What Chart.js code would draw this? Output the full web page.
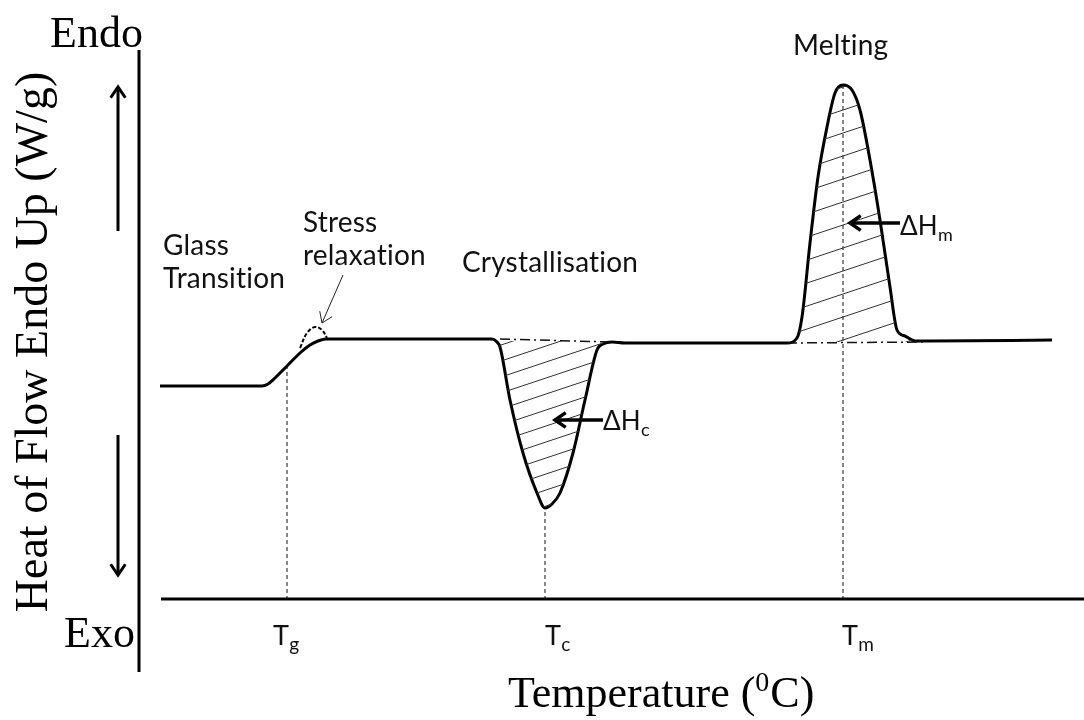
<!DOCTYPE html>
<html>
<head>
<meta charset="utf-8">
<script src="https://cdn.jsdelivr.net/npm/chart.js@4.4.1/dist/chart.umd.min.js"></script>
<style>
  html, body { margin: 0; padding: 0; background: #fff; }
  canvas { display: block; }
</style>
</head>
<body>
<canvas id="dsc" width="1084" height="720"></canvas>
<script>
// schematic DSC thermogram, arbitrary units (x = temperature, y = heat flow)
var curveTemp = [5, 30.5, 32, 33.75, 36.75, 40, 42.5, 44.5, 46.5, 50,
  88, 89.25, 90, 92.5, 95.75, 99.25, 101.25, 103, 105, 108.25,
  111.25, 114.25, 115.75, 118, 121.25, 161.75, 164.25, 165.5, 167.5, 169.5,
  171.75, 173.75, 175.75, 178, 180, 182.5, 185, 187.5, 189.25, 191.25,
  193.75, 197.5, 228];
var curveFlow = [53.5, 53.5, 54, 55.5, 58.5, 61.75, 63.75, 64.75, 65.25, 65.25,
  65.25, 64.5, 63.25, 50, 36.75, 26.75, 23, 24, 26.75, 36.75,
  50, 62.5, 64, 64.5, 64.25, 64.25, 65.5, 70.75, 89.25, 105.75,
  118.25, 126.75, 128.75, 127.5, 122.5, 110, 95, 78.25, 67.5, 66,
  64.75, 64.75, 65];

// stress relaxation overshoot (dashed)
var bumpTemp = [40, 41.75, 43.75, 45.5, 46.75];
var bumpFlow = [63, 66.75, 68.25, 67.5, 65.5];

// characteristic temperatures and their peak heights
var tickNames = ['T', 'T', 'T'];
var tickSubs = ['g', 'c', 'm'];
var tickTemps = [36.75, 101.25, 175.75];
var tickFlow = [58.5, 23, 128.75];

// interpolated baselines under the peaks
var crystBase = [[90, 65.25], [117.5, 64.5]];
var meltBase = [[161.75, 64.25], [196.25, 64.5]];

function pts(xs, ys) {
  return xs.map(function (x, i) { return { x: x, y: ys[i] }; });
}
function between(lo, hi) {
  return pts(curveTemp, curveFlow).filter(function (p) { return p.x >= lo && p.x <= hi; });
}
function hatch(s) {
  var c = document.createElement('canvas');
  c.width = 3 * s; c.height = s;
  var g = c.getContext('2d');
  g.strokeStyle = '#333';
  g.lineWidth = 1;
  [-1, 0, 1].forEach(function (k) {
    g.beginPath();
    g.moveTo(0, s + k * s);
    g.lineTo(3 * s, k * s);
    g.stroke();
  });
  return g.createPattern(c, 'repeat');
}

var datasets = [
  { data: between(89, 116.5), fill: { value: 64.75 }, backgroundColor: hatch(16),
    borderWidth: 0, cubicInterpolationMode: 'monotone' },
  { data: between(161, 194), fill: { value: 64.5 }, backgroundColor: hatch(23),
    borderWidth: 0, cubicInterpolationMode: 'monotone' },
  { data: crystBase.map(function (p) { return { x: p[0], y: p[1] }; }),
    borderColor: '#111', borderWidth: 1.5, borderDash: [10, 4, 2, 4] },
  { data: meltBase.map(function (p) { return { x: p[0], y: p[1] }; }),
    borderColor: '#111', borderWidth: 1.5, borderDash: [10, 4, 2, 4] },
  { data: pts(bumpTemp, bumpFlow), borderColor: '#000', borderWidth: 2,
    borderDash: [4, 2], tension: 0.4 }
];
tickTemps.forEach(function (t, i) {
  datasets.push({ data: [{ x: t, y: 0 }, { x: t, y: tickFlow[i] }],
    borderColor: '#111', borderWidth: 1, borderDash: [4, 3] });
});
datasets.push({ data: pts(curveTemp, curveFlow), borderColor: '#000', borderWidth: 3,
  cubicInterpolationMode: 'monotone' });

var SANS = 'Lato, "Open Sans", sans-serif';
var SERIF = '"Liberation Serif", "DejaVu Serif", serif';

var overlay = {
  id: 'overlay',
  afterDatasetsDraw: function (chart) {
    var ctx = chart.ctx, sx = chart.scales.x, sy = chart.scales.y;
    function px(v) { return sx.getPixelForValue(v); }
    function py(v) { return sy.getPixelForValue(v); }

    function line(x1, y1, x2, y2, w) {
      ctx.lineWidth = w;
      ctx.beginPath();
      ctx.moveTo(px(x1), py(y1));
      ctx.lineTo(px(x2), py(y2));
      ctx.stroke();
    }
    function arrow(x1, y1, x2, y2, w, head) {
      line(x1, y1, x2, y2, w);
      var a = Math.atan2(py(y2) - py(y1), px(x2) - px(x1));
      var tx = px(x2), ty = py(y2);
      ctx.beginPath();
      ctx.moveTo(tx - head * Math.cos(a - 0.6), ty - head * Math.sin(a - 0.6));
      ctx.lineTo(tx, ty);
      ctx.lineTo(tx - head * Math.cos(a + 0.6), ty - head * Math.sin(a + 0.6));
      ctx.stroke();
    }
    function text(s, x, y, font, align) {
      ctx.font = font;
      ctx.textAlign = align || 'left';
      ctx.fillText(s, px(x), py(y));
    }
    function subText(main, sub, x, y, size) {
      ctx.textAlign = 'left';
      ctx.font = size + 'px ' + SANS;
      ctx.fillText(main, px(x), py(y));
      var w = ctx.measureText(main).width;
      ctx.font = Math.round(size * 0.7) + 'px ' + SANS;
      ctx.fillText(sub, px(x) + w, py(y) + size * 0.22);
    }

    ctx.save();
    ctx.strokeStyle = '#000';
    ctx.fillStyle = '#000';
    ctx.lineCap = 'butt';
    ctx.textBaseline = 'alphabetic';

    // axes
    line(-0.25, 137.5, -0.25, -18, 3);
    line(5.25, 0.25, 236, 0.25, 3);

    // endo / exo direction arrows
    arrow(-5.5, 92.25, -5.5, 128.25, 3, 13);
    arrow(-5.5, 41.25, -5.5, 6.25, 3, 13);

    // arrows to the enthalpy areas
    arrow(115.75, 45, 103.75, 45, 3.5, 13);
    arrow(190, 94.25, 177.5, 94.25, 3.5, 13);
    ctx.strokeStyle = '#222';
    arrow(50.75, 81.25, 45.5, 69.25, 1, 12);

    // event labels
    ctx.fillStyle = '#111';
    if ('letterSpacing' in ctx) ctx.letterSpacing = '0.2px';
    var f = '28px ' + SANS;
    text('Glass', 5.75, 86.25, f);
    text('Transition', 5.75, 78, f);
    text('Stress', 40.75, 92, f);
    text('relaxation', 40.75, 83.75, f);
    text('Crystallisation', 80.5, 82, f);
    text('Melting', 163.25, 136.25, f);

    subText('\u0394H', 'c', 115.75, 42.5, 26);
    subText('\u0394H', 'm', 190, 91.25, 26);

    var tickLeft = [33.25, 101.25, 175.5];
    tickNames.forEach(function (n, i) {
      subText(n, tickSubs[i], tickLeft[i], -11.25, 27);
    });
    if ('letterSpacing' in ctx) ctx.letterSpacing = '0px';

    // serif axis wording
    ctx.fillStyle = '#000';
    text('Endo', 0.75, 138.25, '44px ' + SERIF, 'right');
    text('Exo', -1.25, -11.75, '44px ' + SERIF, 'right');

    ctx.font = '44px ' + SERIF;
    ctx.textAlign = 'left';
    var tx = px(92), ty = py(-26.75);
    ctx.fillText('Temperature (', tx, ty);
    tx += ctx.measureText('Temperature (').width;
    ctx.font = '28px ' + SERIF;
    ctx.fillText('0', tx, ty - 16);
    tx += ctx.measureText('0').width + 1;
    ctx.font = '44px ' + SERIF;
    ctx.fillText('C)', tx, ty);

    ctx.translate(px(-23.25), py(64.5));
    ctx.rotate(-Math.PI / 2);
    ctx.font = '46px ' + SERIF;
    ctx.textAlign = 'center';
    ctx.fillText('Heat of Flow Endo Up (W/g)', 0, 0);
    ctx.restore();
  }
};

new Chart(document.getElementById('dsc'), {
  type: 'line',
  data: { datasets: datasets },
  options: {
    responsive: false,
    animation: false,
    devicePixelRatio: 1,
    layout: { padding: { left: 140, right: 0, top: 40, bottom: 120 } },
    elements: { point: { radius: 0 }, line: { fill: false } },
    plugins: { legend: { display: false }, tooltip: { enabled: false } },
    scales: {
      x: { type: 'linear', min: 0, max: 236, display: false },
      y: { min: 0, max: 140, display: false }
    }
  },
  plugins: [overlay]
});
</script>
</body>
</html>
